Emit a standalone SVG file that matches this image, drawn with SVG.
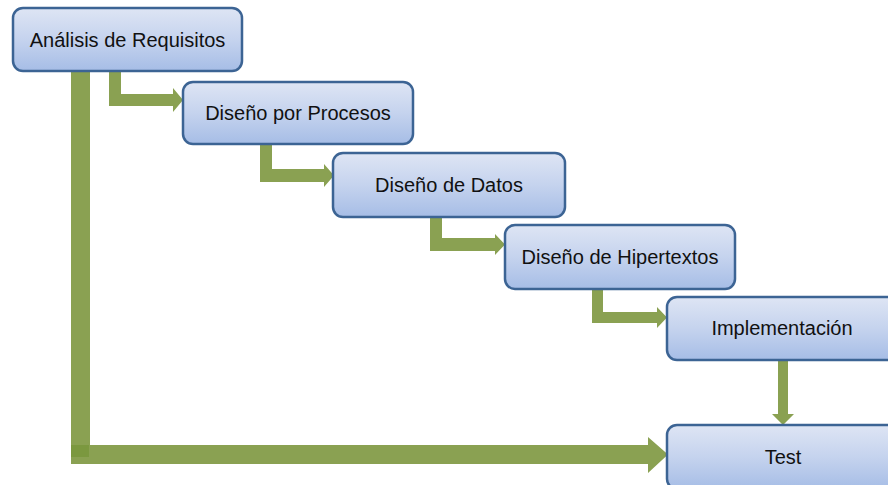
<svg xmlns="http://www.w3.org/2000/svg" width="888" height="485" viewBox="0 0 888 485">
  <defs>
    <linearGradient id="boxGrad" x1="0" y1="0" x2="0" y2="1">
      <stop offset="0" stop-color="#dee5f4"/>
      <stop offset="0.5" stop-color="#c5d3ee"/>
      <stop offset="1" stop-color="#a6bde6"/>
    </linearGradient>
  </defs>
  <style>
    .box { fill: url(#boxGrad); stroke: #3c6494; stroke-width: 2.5; }
    .lbl { font-family: "Liberation Sans", Arial, sans-serif; font-size: 20px; fill: #111; text-anchor: middle; }
    .conn { fill: #8aa152; stroke: none; }
  </style>
  <rect width="888" height="485" fill="#ffffff"/>

  <g id="connectors">
    <!-- Análisis -> Test (big L) -->
    <path class="conn" d="M71,71 H90 V445 H648 V437 L668,454.5 L648,473 V464 H71 Z"/>
    <rect x="71" y="445" width="18" height="12" fill="#7b983f"/>
    <!-- Análisis -> Diseño por Procesos -->
    <path class="conn" d="M109,71 H121 V94 H173 V88 L183,100 L173,112 V106 H109 Z"/>
    <!-- Diseño por Procesos -> Diseño de Datos -->
    <path class="conn" d="M260,144 H272 V169 H324 V164 L334,175.5 L324,187 V182 H260 Z"/>
    <!-- Diseño de Datos -> Diseño de Hipertextos -->
    <path class="conn" d="M430,217 H442 V238 H495 V234 L505,244.5 L495,255 V251 H430 Z"/>
    <!-- Diseño de Hipertextos -> Implementación -->
    <path class="conn" d="M592,289 H603 V312 H657 V307 L667,317.5 L657,328 V323 H592 Z"/>
    <!-- Implementación -> Test -->
    <path class="conn" d="M778,360 H788 V414 H794 L783,425 L772,414 H778 Z"/>
  </g>

  <g id="n1">
    <rect class="box" x="13" y="8" width="229" height="63" rx="10"/>
    <text class="lbl" x="127.5" y="47">Análisis de Requisitos</text>
  </g>
  <g id="n2">
    <rect class="box" x="183" y="82" width="230" height="62" rx="10"/>
    <text class="lbl" x="298" y="120">Diseño por Procesos</text>
  </g>
  <g id="n3">
    <rect class="box" x="333" y="153" width="232" height="64" rx="10"/>
    <text class="lbl" x="449" y="192">Diseño de Datos</text>
  </g>
  <g id="n4">
    <rect class="box" x="505" y="225" width="230" height="64" rx="10"/>
    <text class="lbl" x="620" y="264">Diseño de Hipertextos</text>
  </g>
  <g id="n5">
    <rect class="box" x="667" y="297" width="230" height="63" rx="10"/>
    <text class="lbl" x="782" y="335">Implementación</text>
  </g>
  <g id="n6">
    <rect class="box" x="667" y="425" width="230" height="64" rx="10"/>
    <text class="lbl" x="783" y="464">Test</text>
  </g>
</svg>
